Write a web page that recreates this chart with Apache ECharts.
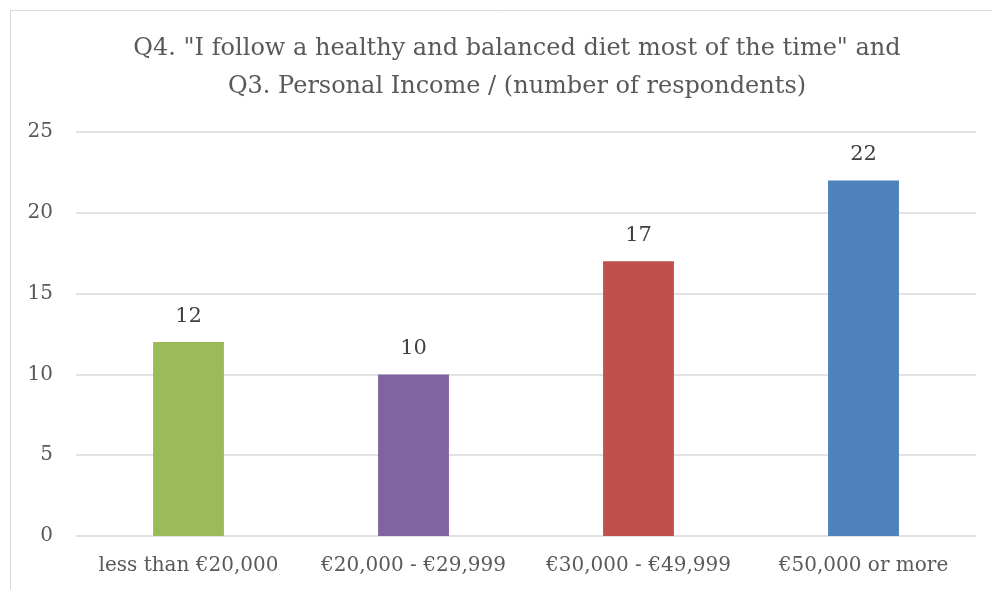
<!DOCTYPE html>
<html>
<head>
<meta charset="utf-8">
<script src="https://cdn.jsdelivr.net/npm/echarts@6/dist/echarts.min.js"></script>
<style>
  html, body { margin: 0; padding: 0; background: #fff; }
  #chart { width: 992px; height: 590px; }
</style>
</head>
<body>
<div id="chart"></div>
<script>
const categories = ['less than €20,000', '€20,000 - €29,999', '€30,000 - €49,999', '€50,000 or more']
const respondents = [12, 10, 17, 22]
const barColors = ['#9BBB59', '#8064A2', '#C0504D', '#4F81BD']
const titleLines = ['Q4. "I follow a healthy and balanced diet most of the time" and', 'Q3. Personal Income / (number of respondents)']

const fontFamily = 'DejaVu Serif'
let myChart = echarts.init(document.getElementById('chart'))

let option = {
  animation: false,
  textStyle: { fontFamily: fontFamily },
  title: {
    text: titleLines.join('\n'),
    left: 512,
    textAlign: 'center',
    top: 25,
    textStyle: {
      fontFamily: fontFamily,
      fontWeight: 'normal',
      fontSize: 24,
      lineHeight: 38,
      color: '#595959'
    }
  },
  graphic: [{
    type: 'rect',
    shape: { x: 10.5, y: 10.5, width: 1000, height: 600 },
    style: { fill: 'none', stroke: '#D9D9D9', lineWidth: 1 },
    silent: true
  }],
  grid: { left: 76, right: 16, top: 132, bottom: 54 },
  xAxis: {
    type: 'category',
    data: categories,
    axisLine: { show: false },
    axisTick: { show: false },
    axisLabel: { color: '#595959', fontSize: 20, margin: 20, interval: 0, hideOverlap: false }
  },
  yAxis: {
    type: 'value',
    min: 0,
    max: 25,
    interval: 5,
    axisLine: { show: false },
    axisTick: { show: false },
    axisLabel: { color: '#595959', fontSize: 20, margin: 23 },
    splitLine: { lineStyle: { color: '#D9D9D9', width: 1.5 } }
  },
  series: [{
    type: 'bar',
    barWidth: '31.5%',
    data: respondents.map((v, i) => ({ value: v, itemStyle: { color: barColors[i] } })),
    label: {
      show: true,
      position: 'top',
      distance: 15,
      color: '#404040',
      fontSize: 21
    }
  }]
}
option && myChart.setOption(option)
</script>
</body>
</html>
